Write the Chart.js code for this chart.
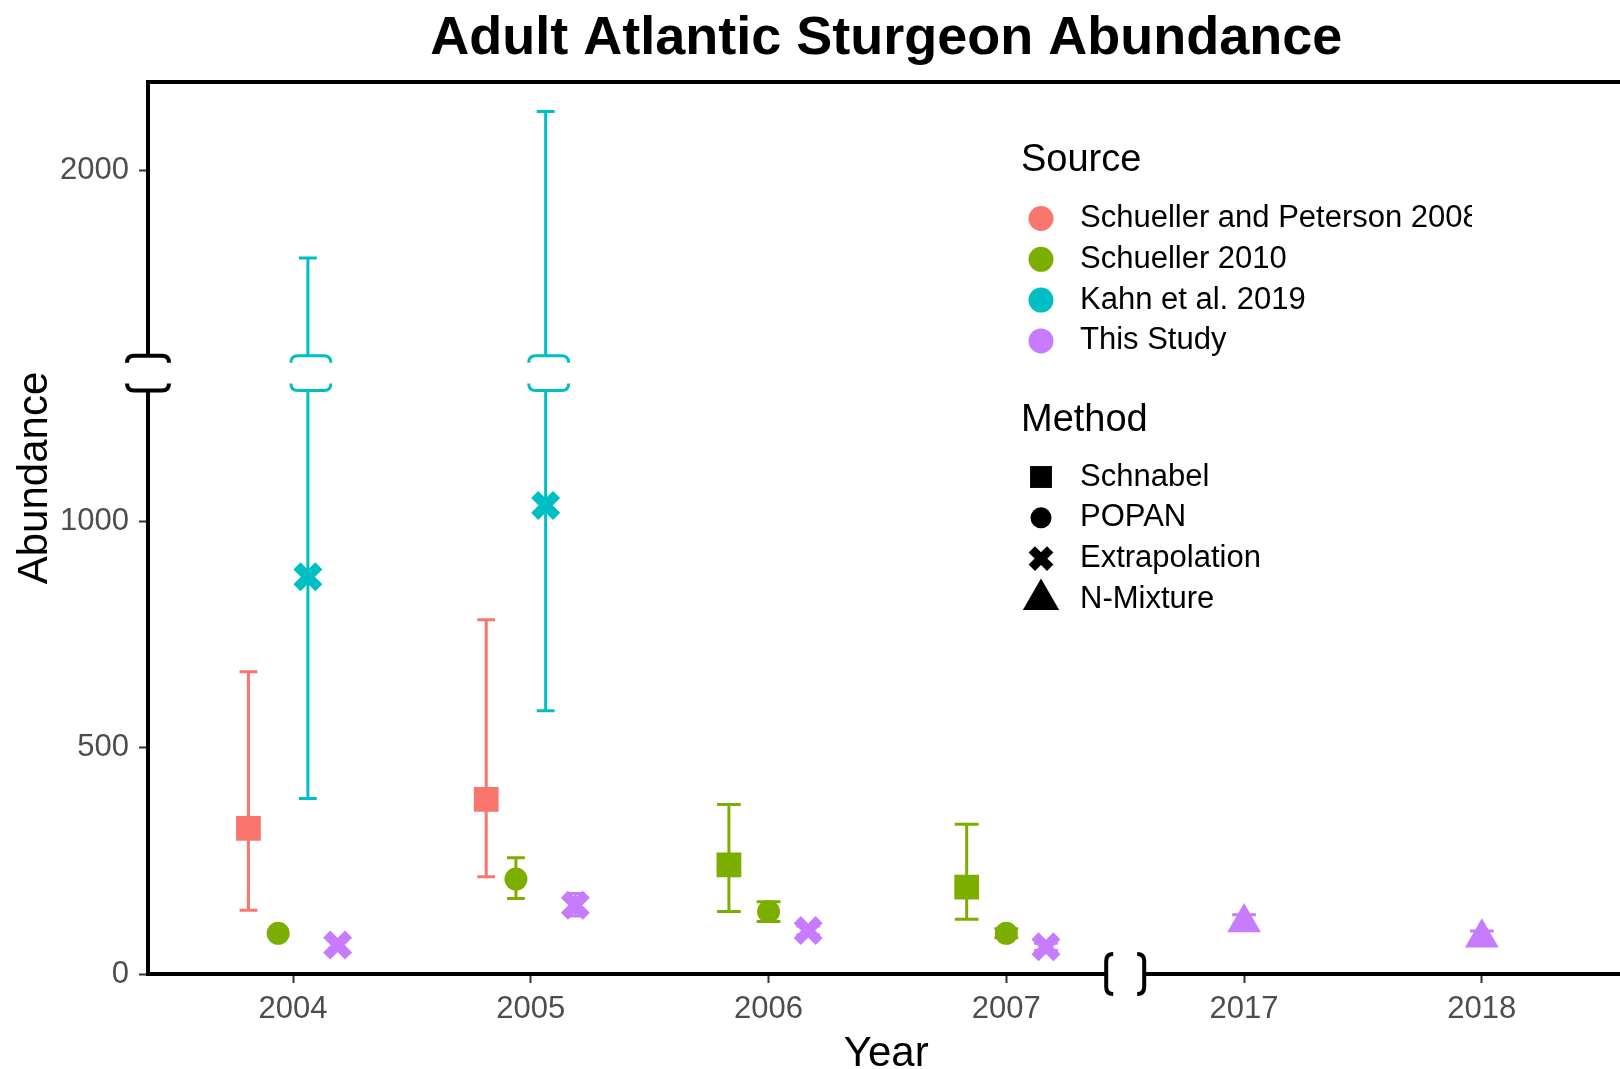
<!DOCTYPE html>
<html>
<head>
<meta charset="utf-8">
<title>Adult Atlantic Sturgeon Abundance</title>
<script src="https://cdn.jsdelivr.net/npm/chart.js@4.4.1/dist/chart.umd.min.js"></script>
<style>
  html, body { margin: 0; padding: 0; background: #fff; overflow: hidden; }
  #chart { display: block; }
</style>
</head>
<body>
<canvas id="chart" width="1650" height="1069"></canvas>
<script>
// Years on the x axis (2008-2016 skipped -> axis break)
const years = ['2004', '2005', '2006', '2007', '2017', '2018'];
const yTicks = [0, 500, 1000, 2000];

const sources = ['Schueller and Peterson 2008', 'Schueller 2010', 'Kahn et al. 2019', 'This Study'];
const sourceColors = ['#F8766D', '#7CAE00', '#00BFC4', '#C77CFF'];
const methods = ['Schnabel', 'POPAN', 'Extrapolation', 'N-Mixture'];

// Schueller and Peterson 2008 - Schnabel
const spSchnabelYears = ['2004', '2005'];
const spSchnabelEst = [322, 386];
const spSchnabelLow = [141, 215];
const spSchnabelHigh = [668, 783];

// Schueller 2010 - Schnabel
const s10SchnabelYears = ['2006', '2007'];
const s10SchnabelEst = [241, 192];
const s10SchnabelLow = [138, 121];
const s10SchnabelHigh = [375, 331];

// Schueller 2010 - POPAN
const s10PopanYears = ['2004', '2005', '2006', '2007'];
const s10PopanEst = [90, 210, 138, 90];
const s10PopanLow = [78, 167, 116, 80];
const s10PopanHigh = [102, 257, 160, 100];

// Kahn et al. 2019 - Extrapolation
const kahnExtrapYears = ['2004', '2005'];
const kahnExtrapEst = [878, 1036];
const kahnExtrapLow = [388, 582];
const kahnExtrapHigh = [1806, 2130];

// This Study - Extrapolation
const studyExtrapYears = ['2004', '2005', '2006', '2007'];
const studyExtrapEst = [64, 152, 96, 60];
const studyExtrapLow = [55, 128, 86, 52];
const studyExtrapHigh = [74, 178, 106, 68];

// This Study - N-Mixture
const studyNmixYears = ['2017', '2018'];
const studyNmixEst = [114, 80];
const studyNmixLow = [98, 66];
const studyNmixHigh = [131, 95];

// y axis gap (values between these are cut out)
const BREAK_LOW = 1290;
const BREAK_HIGH = 1590;
const GAP_UNITS = 77;
const DODGE = 0.5;
const ERR_WIDTH = 0.3;

const FONT = '"Liberation Sans", Arial, sans-serif';

const series = [
  { source: 0, method: 0, years: spSchnabelYears, est: spSchnabelEst, low: spSchnabelLow, high: spSchnabelHigh },
  { source: 1, method: 0, years: s10SchnabelYears, est: s10SchnabelEst, low: s10SchnabelLow, high: s10SchnabelHigh },
  { source: 1, method: 1, years: s10PopanYears, est: s10PopanEst, low: s10PopanLow, high: s10PopanHigh },
  { source: 2, method: 2, years: kahnExtrapYears, est: kahnExtrapEst, low: kahnExtrapLow, high: kahnExtrapHigh },
  { source: 3, method: 2, years: studyExtrapYears, est: studyExtrapEst, low: studyExtrapLow, high: studyExtrapHigh },
  { source: 3, method: 3, years: studyNmixYears, est: studyNmixEst, low: studyNmixLow, high: studyNmixHigh }
];

// marker look for each method
const methodStyles = [
  { pointStyle: 'rect', radius: 17.5, borderWidth: 0 },
  { pointStyle: 'circle', radius: 11.5, borderWidth: 0 },
  { pointStyle: 'crossRot', radius: 15.5, borderWidth: 10 },
  { pointStyle: 'triangle', radius: 19.5, borderWidth: 0 }
];

// y scale with a cut-out section
function compress(v) {
  if (v <= BREAK_LOW) return v;
  if (v >= BREAK_HIGH) return v - (BREAK_HIGH - BREAK_LOW) + GAP_UNITS;
  return BREAK_LOW + (v - BREAK_LOW) / (BREAK_HIGH - BREAK_LOW) * GAP_UNITS;
}
function expand(c) {
  if (c <= BREAK_LOW) return c;
  if (c >= BREAK_LOW + GAP_UNITS) return c + (BREAK_HIGH - BREAK_LOW) - GAP_UNITS;
  return BREAK_LOW + (c - BREAK_LOW) / GAP_UNITS * (BREAK_HIGH - BREAK_LOW);
}
class BrokenLinearScale extends Chart.LinearScale {
  getPixelForValue(value) {
    const lo = compress(this.min), hi = compress(this.max);
    return this.getPixelForDecimal((compress(value) - lo) / (hi - lo));
  }
  getValueForPixel(pixel) {
    const lo = compress(this.min), hi = compress(this.max);
    return expand(lo + this.getDecimalForPixel(pixel) * (hi - lo));
  }
}
BrokenLinearScale.id = 'brokenLinear';
Chart.register(BrokenLinearScale);

// position_dodge style offset inside a year
function inYear(yr) {
  return series.filter(s => s.years.includes(yr));
}
function dodgeOffset(s, yr) {
  const group = inYear(yr);
  const i = group.indexOf(s);
  return ((i + 0.5) / group.length - 0.5) * DODGE;
}

const datasets = series.map(s => {
  const color = sourceColors[s.source];
  const st = methodStyles[s.method];
  return {
    label: sources[s.source] + ' - ' + methods[s.method],
    data: s.years.map((yr, k) => ({
      x: years.indexOf(yr) + dodgeOffset(s, yr),
      y: s.est[k],
      low: s.low[k],
      high: s.high[k],
      n: inYear(yr).length
    })),
    errColor: color,
    pointStyle: st.pointStyle,
    pointRadius: st.radius,
    pointBorderWidth: st.borderWidth,
    pointBackgroundColor: color,
    pointBorderColor: color,
    backgroundColor: color,
    borderColor: color
  };
});

function hBracket(ctx, cx, y, half, dir, curl) {
  ctx.beginPath();
  ctx.moveTo(cx - half, y + dir * curl);
  ctx.quadraticCurveTo(cx - half, y, cx - half + curl, y);
  ctx.lineTo(cx + half - curl, y);
  ctx.quadraticCurveTo(cx + half, y, cx + half, y + dir * curl);
  ctx.stroke();
}
function vBracket(ctx, x, cy, half, dir, curl) {
  ctx.beginPath();
  ctx.moveTo(x + dir * curl, cy - half);
  ctx.quadraticCurveTo(x, cy - half, x, cy - half + curl);
  ctx.lineTo(x, cy + half - curl);
  ctx.quadraticCurveTo(x, cy + half, x + dir * curl, cy + half);
  ctx.stroke();
}

const errorBars = {
  id: 'errorBars',
  beforeDatasetsDraw(chart) {
    const { ctx, scales: { x, y } } = chart;
    const unit = x.getPixelForValue(1) - x.getPixelForValue(0);
    const gapTop = y.getPixelForValue(BREAK_HIGH);
    const gapBottom = y.getPixelForValue(BREAK_LOW);
    ctx.save();
    ctx.lineWidth = 3;
    chart.data.datasets.forEach(ds => {
      ctx.strokeStyle = ds.errColor;
      ds.data.forEach(p => {
        const px = x.getPixelForValue(p.x);
        const yl = y.getPixelForValue(p.low);
        const yh = y.getPixelForValue(p.high);
        const half = Math.min(0.1, ERR_WIDTH / p.n) * unit / 2;
        const cut = p.low < BREAK_LOW && p.high > BREAK_HIGH;
        ctx.beginPath();
        if (cut) {
          ctx.moveTo(px, yl); ctx.lineTo(px, gapBottom);
          ctx.moveTo(px, gapTop); ctx.lineTo(px, yh);
        } else {
          ctx.moveTo(px, yl); ctx.lineTo(px, yh);
        }
        ctx.moveTo(px - half, yl); ctx.lineTo(px + half, yl);
        ctx.moveTo(px - half, yh); ctx.lineTo(px + half, yh);
        ctx.stroke();
        if (cut) {
          hBracket(ctx, px + 3, gapTop, 20, 1, 7);
          hBracket(ctx, px + 3, gapBottom, 20, -1, 7);
        }
      });
    });
    ctx.restore();
  },
  afterDraw(chart) {
    const { ctx, chartArea: a, scales: { x, y } } = chart;
    const gapTop = y.getPixelForValue(BREAK_HIGH);
    const gapBottom = y.getPixelForValue(BREAK_LOW);
    const xBreak = (x.getPixelForValue(3) + x.getPixelForValue(4)) / 2;
    ctx.save();
    ctx.strokeStyle = '#000';
    ctx.lineWidth = 4;
    ctx.lineCap = 'butt';
    // frame with breaks on left and bottom
    ctx.beginPath();
    ctx.moveTo(a.left, gapTop); ctx.lineTo(a.left, a.top - 2);
    ctx.moveTo(a.left - 2, a.top); ctx.lineTo(a.right, a.top);
    ctx.lineTo(a.right, a.bottom);
    ctx.moveTo(a.right, a.bottom); ctx.lineTo(xBreak + 18, a.bottom);
    ctx.moveTo(xBreak - 18, a.bottom); ctx.lineTo(a.left - 2, a.bottom);
    ctx.moveTo(a.left, a.bottom + 2); ctx.lineTo(a.left, gapBottom);
    ctx.stroke();
    hBracket(ctx, a.left, gapTop, 21, 1, 7);
    hBracket(ctx, a.left, gapBottom, 21, -1, 7);
    vBracket(ctx, xBreak - 19, a.bottom, 20, 1, 7);
    vBracket(ctx, xBreak + 19, a.bottom, 20, -1, 7);

    // title and axis titles
    ctx.fillStyle = '#000';
    ctx.textAlign = 'center';
    ctx.textBaseline = 'alphabetic';
    ctx.font = 'bold 54px ' + FONT;
    ctx.fillText('Adult Atlantic Sturgeon Abundance', (a.left + a.right) / 2, 54);
    ctx.font = '42px ' + FONT;
    ctx.fillText('Year', (a.left + a.right) / 2, 1066);
    ctx.save();
    ctx.translate(47, 478);
    ctx.rotate(-Math.PI / 2);
    ctx.fillText('Abundance', 0, 0);
    ctx.restore();

    // legends (the right edge of the legend box is cut off in the figure)
    const lx = 1021, mx = 1041, tx = 1080, step = 40.8;
    ctx.save();
    ctx.beginPath();
    ctx.rect(0, 0, 1472, chart.height);
    ctx.clip();
    ctx.textAlign = 'left';
    ctx.textBaseline = 'middle';
    ctx.font = '38px ' + FONT;
    ctx.fillText('Source', lx, 161);
    ctx.fillText('Method', lx, 421);
    ctx.font = '31px ' + FONT;
    sources.forEach((name, i) => {
      const yy = 218.5 + i * step;
      ctx.fillStyle = sourceColors[i];
      Chart.helpers.drawPoint(ctx, { pointStyle: 'circle', radius: 12.5, borderWidth: 0 }, mx, yy);
      ctx.fillStyle = '#000';
      ctx.fillText(name, tx, yy);
    });
    const legendSizes = [15.5, 10.5, 13, 21];
    const legendWidths = [0, 0, 9, 0];
    methods.forEach((name, i) => {
      const yy = 477 + i * step;
      const st = methodStyles[i];
      ctx.fillStyle = '#000';
      ctx.strokeStyle = '#000';
      ctx.lineWidth = legendWidths[i];
      Chart.helpers.drawPoint(ctx, { pointStyle: st.pointStyle, radius: legendSizes[i], borderWidth: legendWidths[i] }, mx, yy);
      ctx.fillText(name, tx, yy);
    });
    ctx.restore();
    ctx.restore();
  }
};

new Chart(document.getElementById('chart'), {
  type: 'scatter',
  data: { datasets: datasets },
  options: {
    responsive: false,
    animation: false,
    devicePixelRatio: 1,
    events: [],
    layout: { padding: { top: 82, right: 15, bottom: 0, left: 0 } },
    plugins: {
      legend: { display: false },
      tooltip: { enabled: false },
      title: { display: false }
    },
    scales: {
      x: {
        type: 'linear',
        min: -0.61,
        max: 5.6,
        afterBuildTicks: scale => { scale.ticks = years.map((_, i) => ({ value: i })); },
        afterFit: scale => { scale.height = 95; },
        grid: { drawOnChartArea: false, tickLength: 9, tickWidth: 2, tickColor: '#333' },
        border: { display: false },
        ticks: {
          padding: 8,
          color: '#4D4D4D',
          font: { family: FONT, size: 31 },
          maxRotation: 0,
          autoSkip: false,
          callback: v => years[v]
        }
      },
      y: {
        type: 'brokenLinear',
        min: 0,
        max: 2195,
        afterBuildTicks: scale => { scale.ticks = yTicks.map(v => ({ value: v })); },
        afterFit: scale => { scale.width = 148; },
        grid: { drawOnChartArea: false, tickLength: 9, tickWidth: 2, tickColor: '#333' },
        border: { display: false },
        ticks: {
          padding: 10,
          color: '#4D4D4D',
          font: { family: FONT, size: 31 },
          callback: v => String(v)
        }
      }
    }
  },
  plugins: [errorBars]
});
</script>
</body>
</html>
